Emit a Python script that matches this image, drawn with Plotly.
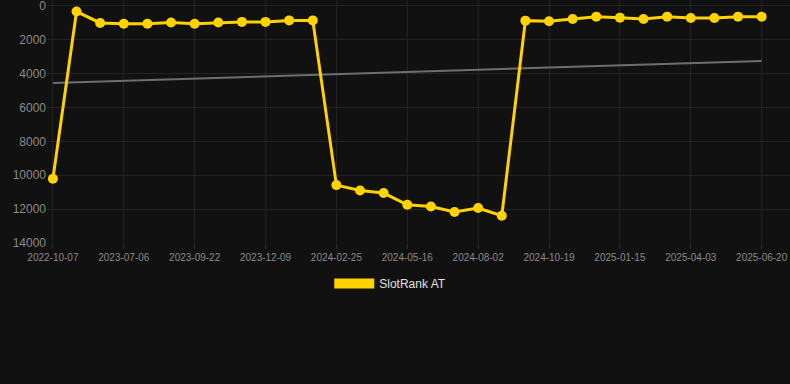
import numpy as np
import plotly.graph_objects as go

dates = [
    "2022-10-07", "2023-05-15", "2023-06-10", "2023-07-06", "2023-08-01",
    "2023-08-27", "2023-09-22", "2023-10-18", "2023-11-13", "2023-12-09",
    "2024-01-04", "2024-01-30", "2024-02-25", "2024-03-23", "2024-04-19",
    "2024-05-16", "2024-06-11", "2024-07-07", "2024-08-02", "2024-08-28",
    "2024-09-23", "2024-10-19", "2024-11-17", "2024-12-16", "2025-01-15",
    "2025-02-10", "2025-03-08", "2025-04-03", "2025-04-29", "2025-05-25",
    "2025-06-20",
]
ranks = [
    10200, 330, 1000, 1050, 1050, 980, 1050, 980, 940, 940,
    850, 850, 10580, 10900, 11050, 11740, 11840, 12170, 11935, 12390,
    865, 905, 767, 630, 688, 767, 630, 708, 708, 630, 630,
]
tick_labels = dates[::3]
y_ticks = [0, 2000, 4000, 6000, 8000, 10000, 12000, 14000]
series_name = "SlotRank AT"

idx = np.arange(len(ranks))
slope, intercept = np.polyfit(idx, ranks, 1)
trend = slope * idx + intercept

YELLOW = "#FFD200"
BG = "#111111"
GRID = "#232323"

fig = go.Figure()
fig.add_trace(go.Scatter(
    x=dates, y=list(trend), mode="lines",
    line=dict(color="#6e6e6e", width=2),
    showlegend=False, hoverinfo="skip",
))
fig.add_trace(go.Scatter(
    x=dates, y=ranks, mode="lines+markers",
    line=dict(color=YELLOW, width=3),
    marker=dict(color=YELLOW, size=10),
    showlegend=False, cliponaxis=False, name=series_name,
))
fig.add_trace(go.Scatter(
    x=[None], y=[None], mode="lines",
    line=dict(color=YELLOW, width=12),
    name=series_name, showlegend=True,
))

fig.update_layout(
    width=790, height=384,
    paper_bgcolor=BG, plot_bgcolor=BG,
    margin=dict(l=47, r=0, t=0, b=141),
    font=dict(family="Liberation Sans, Arial, sans-serif", color="#8a8a8a"),
    legend=dict(
        orientation="h", x=0.462, xanchor="center", y=-0.107, yanchor="top",
        font=dict(size=12, color="#e0e0e0"), bgcolor="rgba(0,0,0,0)",
        itemwidth=40,
    ),
    xaxis=dict(
        type="category", categoryorder="array", categoryarray=dates,
        range=[-0.25, 31.2],
        tickmode="array", tickvals=tick_labels, ticktext=tick_labels,
        tickfont=dict(size=10, color="#8a8a8a"),
        showgrid=True, gridcolor=GRID, gridwidth=1,
        zeroline=False, showline=False,
        ticks="outside", ticklen=5, tickcolor="#2a2a2a",
        ticklabeloverflow="allow",
    ),
    yaxis=dict(
        range=[14000, -354],
        tickmode="array", tickvals=y_ticks, ticktext=[str(v) for v in y_ticks],
        tickfont=dict(size=12, color="#8a8a8a"),
        showgrid=True, gridcolor=GRID, gridwidth=1,
        zeroline=False, showline=False, ticks="",
        ticklabeloverflow="allow",
    ),
)

fig.write_html(
    "out.html",
    config={"displayModeBar": False},
    post_script="document.body.style.margin='0';document.body.style.background='#111111';",
)
